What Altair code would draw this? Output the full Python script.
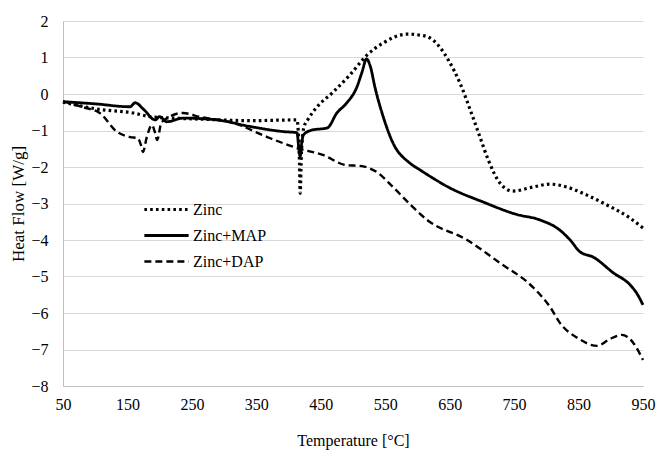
import altair as alt
import pandas as pd

zinc_t = [50, 102, 159, 185, 220, 250, 340, 413, 417, 418, 420, 424, 430, 444, 469, 495, 522, 547, 584, 609, 624, 648, 666, 682, 697, 710, 728, 748, 779, 806, 832, 863, 894, 930, 950]
zinc_v = [-0.22, -0.41, -0.52, -0.62, -0.66, -0.68, -0.73, -0.71, -1.9, -2.72, -1.6, -0.9, -0.7, -0.36, 0.05, 0.52, 1.07, 1.40, 1.64, 1.60, 1.48, 0.93, 0.30, -0.44, -1.18, -1.81, -2.44, -2.66, -2.55, -2.47, -2.55, -2.77, -3.04, -3.40, -3.67]

map_t = [50, 100, 154, 162, 175, 193, 200, 211, 237, 289, 340, 392, 413, 416, 418, 420, 423, 436, 460, 475, 490, 506, 514, 521, 527, 534, 547, 562, 588, 604, 619, 650, 702, 754, 790, 821, 837, 852, 873, 904, 930, 940, 950]
map_v = [-0.21, -0.27, -0.35, -0.24, -0.42, -0.71, -0.62, -0.76, -0.66, -0.71, -0.89, -1.03, -1.06, -1.5, -1.72, -1.4, -1.12, -0.99, -0.93, -0.52, -0.25, 0.19, 0.6, 0.96, 0.75, 0.19, -0.63, -1.34, -1.89, -2.08, -2.25, -2.57, -2.96, -3.30, -3.45, -3.73, -4.0, -4.32, -4.47, -4.90, -5.23, -5.45, -5.78]

dap_t = [50, 81, 107, 134, 154, 166, 171, 174, 180, 188, 193, 196, 203, 236, 263, 314, 367, 413, 453, 490, 511, 537, 562, 593, 615, 677, 728, 779, 806, 821, 848, 879, 899, 917, 935, 950]
dap_v = [-0.2, -0.36, -0.52, -1.04, -1.18, -1.21, -1.4, -1.59, -1.18, -0.85, -1.07, -1.26, -0.77, -0.52, -0.63, -0.79, -1.18, -1.48, -1.67, -1.95, -1.97, -2.14, -2.55, -3.10, -3.45, -4.0, -4.63, -5.29, -5.84, -6.27, -6.68, -6.90, -6.71, -6.60, -6.82, -7.29]

series = ["Zinc", "Zinc+MAP", "Zinc+DAP"]
x_ticks = [50, 150, 250, 350, 450, 550, 650, 750, 850, 950]
y_ticks = [2, 1, 0, -1, -2, -3, -4, -5, -6, -7, -8]

rows = []
for name, ts, vs in [(series[0], zinc_t, zinc_v), (series[1], map_t, map_v), (series[2], dap_t, dap_v)]:
    for t, v in zip(ts, vs):
        rows.append({"series": name, "T": t, "v": v})
df = pd.DataFrame(rows)

font = "Liberation Serif"

chart = alt.Chart(df).mark_line(
    interpolate="monotone", color="black"
).encode(
    x=alt.X("T:Q", scale=alt.Scale(domain=[50, 950], nice=False, zero=False),
            axis=alt.Axis(values=x_ticks, title="Temperature [°C]", grid=False,
                          ticks=False, labelFlush=False, labelPadding=10, titlePadding=20)),
    y=alt.Y("v:Q", scale=alt.Scale(domain=[-8, 2], nice=False, zero=False),
            axis=alt.Axis(values=y_ticks, title="Heat Flow [W/g]", grid=True,
                          ticks=False, labelFlush=False, labelPadding=15, titlePadding=3,
                          titleFontSize=17)),
    strokeDash=alt.StrokeDash("series:N",
        scale=alt.Scale(domain=series, range=[[2.6, 3.2], [1, 0], [7, 4]]),
        legend=alt.Legend(title=None, orient="none", legendX=86, legendY=171,
                          symbolType="M-1.4,0H1.4", symbolSize=1000, symbolStrokeWidth=2.8,
                          symbolStrokeColor="black", symbolFillColor="transparent",
                          rowPadding=-5,
                          labelFontSize=16, labelFont=font, labelColor="black",
                          labelOffset=9)),
    strokeWidth=alt.StrokeWidth("series:N",
        scale=alt.Scale(domain=series, range=[3.2, 2.4, 2.4]), legend=None),
    detail="series:N",
    order="T:Q",
).properties(
    width=580, height=365,
    padding={"left": 63, "top": 21, "right": 14, "bottom": 65},
    autosize=alt.AutoSizeParams(type="none"),
).configure_axis(
    labelFont=font, titleFont=font, labelFontSize=16, titleFontSize=16,
    labelColor="black", titleColor="black", titleFontWeight="normal",
    domainColor="#bfbfbf", gridColor="#d9d9d9", domainWidth=1,
).configure_view(stroke=None)

chart.save("out.html", embed_options={"renderer": "svg", "actions": False})
